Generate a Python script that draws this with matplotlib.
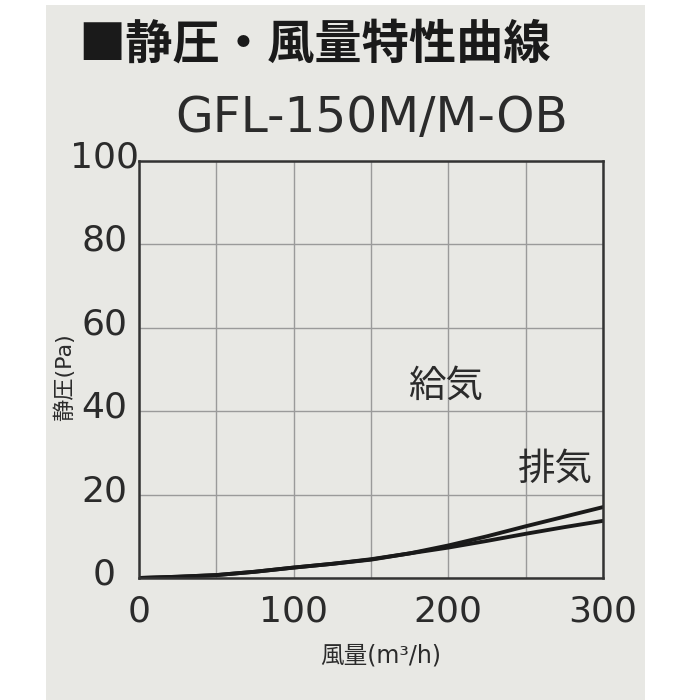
import matplotlib
matplotlib.use('Agg')
import matplotlib.pyplot as plt
import matplotlib.transforms as mtransforms
from matplotlib.patches import Rectangle

plt.rcParams['font.family'] = ['Noto Sans CJK JP', 'DejaVu Sans']

# values
air_flow = [0, 25, 50, 75, 100, 125, 150, 175, 200, 225, 250, 275, 300]
pressure_supply = [0, 0.3, 0.7, 1.5, 2.5, 3.4, 4.4, 5.9, 7.8, 10.0, 12.4, 14.7, 17.0]
pressure_exhaust = [0, 0.3, 0.7, 1.5, 2.5, 3.4, 4.5, 5.9, 7.3, 8.9, 10.6, 12.2, 13.7]
x_ticks = [0, 100, 200, 300]
y_ticks = [0, 20, 40, 60, 80, 100]

title = '■静圧・風量特性曲線'
model = 'GFL-150M/M-OB'
x_label = '風量(m³/h)'
y_label = '静圧(Pa)'
label_supply = '給気'
label_exhaust = '排気'

bg = '#e8e8e4'
ink = '#2b2b2b'
latin_first = ['DejaVu Sans', 'Noto Sans CJK JP']

fig = plt.figure(figsize=(7, 7), dpi=100)
fig.patch.set_facecolor('white')
fig.patches.append(Rectangle((46 / 700, 0), (645 - 46) / 700, 1 - 5 / 700,
                             transform=fig.transFigure, facecolor=bg,
                             edgecolor='none', zorder=-10))

ax = fig.add_axes([139 / 700, 1 - 578 / 700, (603 - 139) / 700, (578 - 161) / 700])
ax.set_zorder(1)
ax.set_facecolor(bg)
ax.set_xlim(0, 300)
ax.set_ylim(0, 100)
ax.set_yticks(y_ticks)
ax.grid(True, color='#9a9a9a', linewidth=1.0)
ax.set_axisbelow(True)
for s in ax.spines.values():
    s.set_linewidth(1.8)
    s.set_color('#333333')

ax.plot(air_flow, pressure_supply, color='#1a1a1a', linewidth=2.8, solid_capstyle='round')
ax.plot(air_flow, pressure_exhaust, color='#1a1a1a', linewidth=2.8, solid_capstyle='round')

# gridlines every 50, labels only at 0/100/200/300
ax.set_xticks(range(0, 301, 50))
ax.set_xticklabels([str(v) if v in x_ticks else '' for v in range(0, 301, 50)])
ax.tick_params(axis='both', length=0, labelsize=26, labelcolor=ink)
ax.tick_params(axis='x', pad=12)
ax.tick_params(axis='y', pad=25)
for lab in ax.get_xticklabels() + ax.get_yticklabels():
    lab.set_fontfamily('DejaVu Sans')
shift = mtransforms.ScaledTranslation(0, 7 / 100, fig.dpi_scale_trans)
for lab in ax.get_yticklabels():
    lab.set_horizontalalignment('center')
    lab.set_transform(lab.get_transform() + shift)

fig.text(64 / 700, 1 - 377 / 700, y_label, rotation=90, ha='center', va='center',
         fontsize=16, color=ink, family=latin_first)
fig.text(381 / 700, 1 - 656 / 700, x_label, ha='center', va='center',
         fontsize=17, color=ink, family=latin_first)

fig.text(78 / 700, 1 - 45 / 700, title, ha='left', va='center',
         fontsize=34, fontweight='bold', color='#1a1a1a')
fig.text(372 / 700, 1 - 118 / 700, model, ha='center', va='center',
         fontsize=35, color=ink, family='DejaVu Sans')

ax.text(198, 46, label_supply, ha='center', va='center', fontsize=27, color=ink)
ax.text(269, 26, label_exhaust, ha='center', va='center', fontsize=27, color=ink)

fig.savefig('out.png', dpi=100, facecolor=fig.get_facecolor())
